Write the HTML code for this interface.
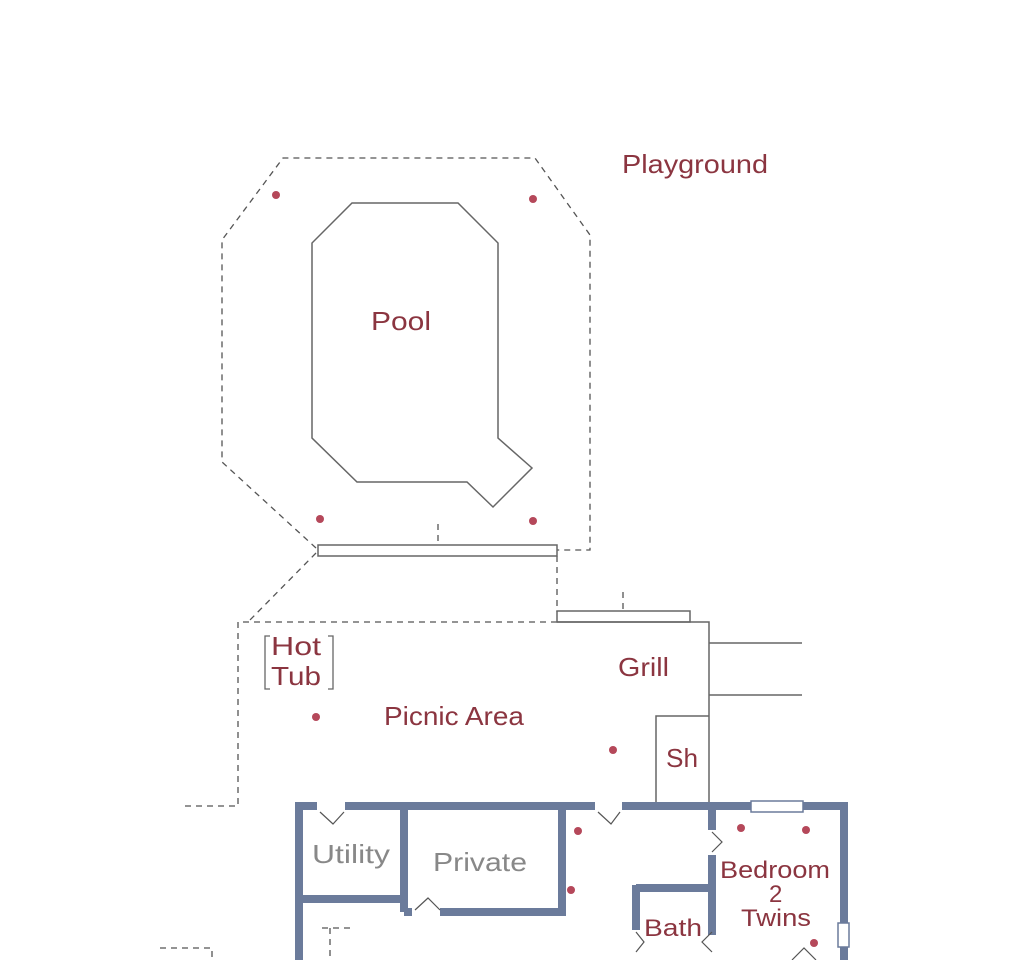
<!DOCTYPE html>
<html><head><style>body{margin:0;background:#fff}svg{display:block}</style></head><body>
<svg width="1024" height="960" viewBox="0 0 1024 960" xmlns="http://www.w3.org/2000/svg" font-family="Liberation Sans, sans-serif">
<g fill="none" stroke="#555" stroke-width="1.3" stroke-dasharray="6,5">
<polyline points="316,548 222,462 222,240 283,158 535,158 590,235 590,550 557,550"/>
<polyline points="316,553 248,622"/>
<polyline points="557,556 557,612"/>
<polyline points="557,622 238,622 238,806 185,806"/>
<polyline points="438,524 438,545"/><polyline points="623,592 623,611"/>
<polyline points="160,948 212,948 212,960"/>
<polyline points="322,928 350,928"/><polyline points="330,928 330,960"/>
</g>
<g fill="none" stroke="#666" stroke-width="1.5">
<polygon points="352,203 458,203 498,243 498,438 532,468 493,507 467,482 357,482 312,438 312,243"/>
<rect x="318" y="545" width="239" height="11"/>
<rect x="557" y="611" width="133" height="11"/>
<polyline points="557,622 709,622 709,805"/>
<line x1="709" y1="643" x2="802" y2="643"/><line x1="709" y1="695" x2="802" y2="695"/>
<polyline points="656,805 656,716 709,716"/>
</g>
<g stroke="#6b7b9b" stroke-width="8" fill="none">
<line x1="295" y1="806" x2="317" y2="806"/><line x1="345" y1="806" x2="595" y2="806"/>
<line x1="622" y1="806" x2="848" y2="806"/>
<line x1="299" y1="806" x2="299" y2="960"/><line x1="844" y1="806" x2="844" y2="960"/>
<line x1="404" y1="810" x2="404" y2="912"/><line x1="299" y1="899" x2="404" y2="899"/>
<line x1="404" y1="912" x2="412" y2="912"/><line x1="440" y1="912" x2="566" y2="912"/>
<line x1="562" y1="810" x2="562" y2="912"/>
<line x1="636" y1="885" x2="636" y2="930"/><line x1="636" y1="888" x2="712" y2="888"/>
<line x1="712" y1="806" x2="712" y2="830"/><line x1="712" y1="855" x2="712" y2="935"/>
</g>
<rect x="751" y="801" width="52" height="11" fill="#fff" stroke="#6b7b9b" stroke-width="1.5"/>
<rect x="838" y="923" width="11" height="24" fill="#fff" stroke="#6b7b9b" stroke-width="1.5"/>
<g fill="none" stroke="#555" stroke-width="1.2">
<polyline points="320,812 333,824 344,812"/><polyline points="598,812 611,824 620,812"/>
<polyline points="415,910 428,898 440,910"/><polyline points="712,832 722,842 712,852"/>
<polyline points="636,932 644,942 636,952"/><polyline points="712,932 702,942 712,952"/>
<polyline points="792,960 804,948 816,960"/>
</g>
<g fill="#b5485a">
<circle cx="276" cy="195" r="4"/><circle cx="533" cy="199" r="4"/>
<circle cx="320" cy="519" r="4"/><circle cx="533" cy="521" r="4"/>
<circle cx="316" cy="717" r="4"/><circle cx="613" cy="750" r="4"/>
<circle cx="578" cy="831" r="4"/><circle cx="571" cy="890" r="4"/>
<circle cx="741" cy="828" r="4"/><circle cx="806" cy="830" r="4"/><circle cx="814" cy="943" r="4"/>
</g>
<g fill="#8b3540" font-size="26">
<text x="622" y="173" textLength="146" lengthAdjust="spacingAndGlyphs">Playground</text>
<text x="371" y="330" textLength="60" lengthAdjust="spacingAndGlyphs">Pool</text>
<text x="384" y="725" textLength="140" lengthAdjust="spacingAndGlyphs">Picnic Area</text>
<text x="618" y="676" textLength="51" lengthAdjust="spacingAndGlyphs">Grill</text>
<text x="666" y="767" textLength="32" lengthAdjust="spacingAndGlyphs">Sh</text>
<text x="271" y="655" textLength="50" lengthAdjust="spacingAndGlyphs">Hot</text><text x="271" y="685" textLength="50" lengthAdjust="spacingAndGlyphs">Tub</text>
<text x="720" y="878" font-size="24" textLength="110" lengthAdjust="spacingAndGlyphs">Bedroom</text>
<text x="769" y="902" font-size="24">2</text>
<text x="741" y="926" font-size="24" textLength="70" lengthAdjust="spacingAndGlyphs">Twins</text>
<text x="644" y="936" font-size="24" textLength="58" lengthAdjust="spacingAndGlyphs">Bath</text>
</g>
<path d="M270,636 h-5 v53 h5 M328,636 h5 v53 h-5" fill="none" stroke="#666" stroke-width="1.3"/>
<g fill="#888" font-size="26"><text x="312" y="863" textLength="78" lengthAdjust="spacingAndGlyphs">Utility</text><text x="433" y="871" textLength="94" lengthAdjust="spacingAndGlyphs">Private</text></g>
</svg>
</body></html>
